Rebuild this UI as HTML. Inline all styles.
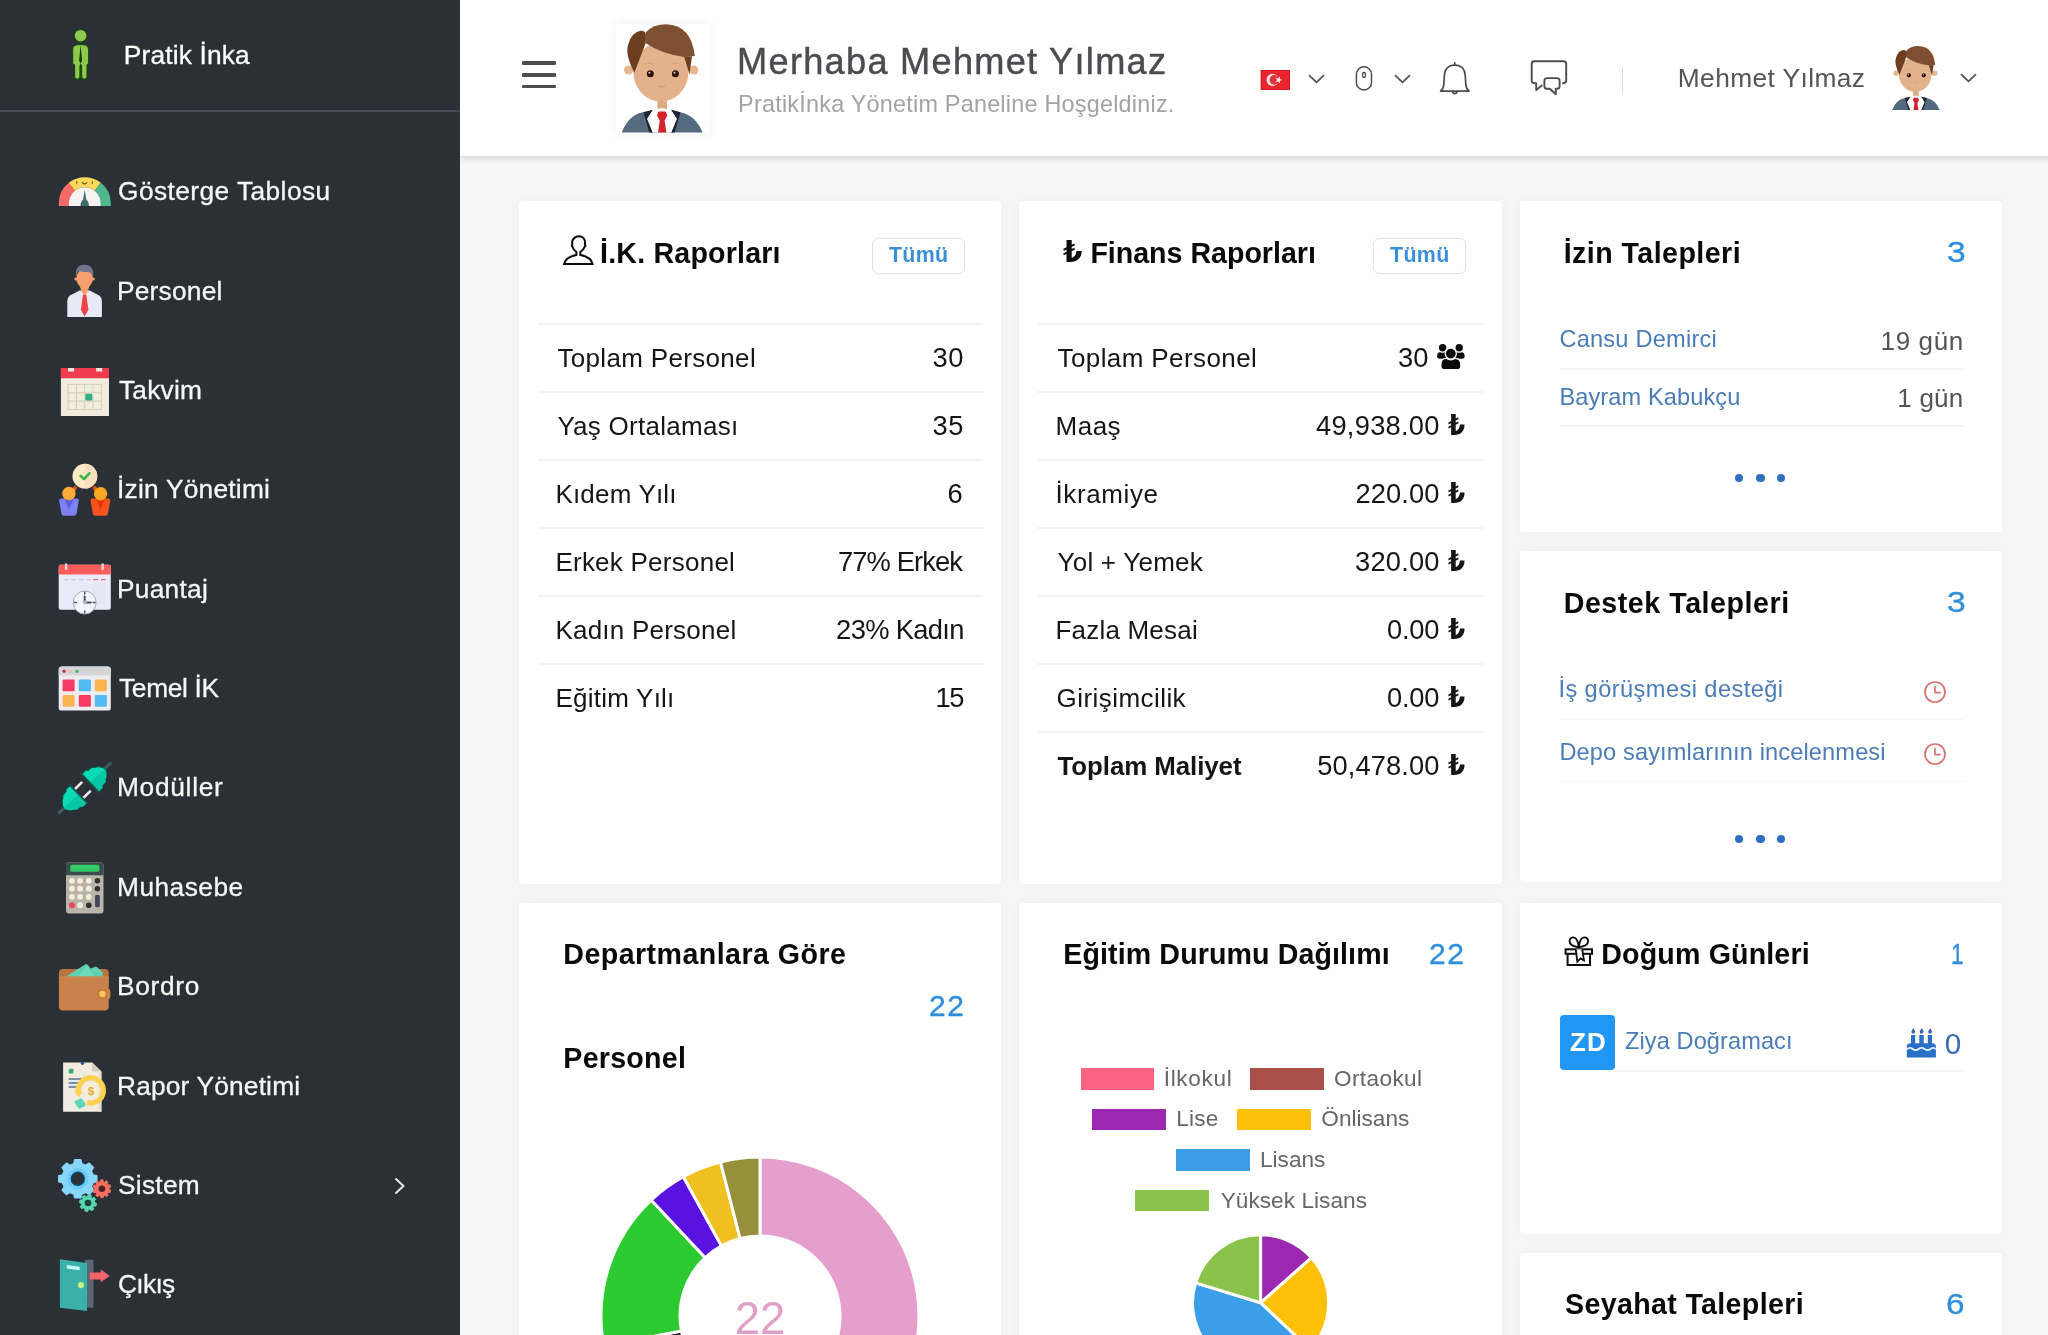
<!DOCTYPE html>
<html lang="tr">
<head>
<meta charset="utf-8">
<title>Pratik İnka - Gösterge Tablosu</title>
<style>
*{box-sizing:border-box;margin:0;padding:0}
html,body{width:2048px;height:1335px;overflow:hidden;background:#f6f6f6;font-family:"Liberation Sans",sans-serif;color:#111}
.abs{position:absolute}
.t{position:absolute;white-space:nowrap}
#wrap{position:absolute;left:0;top:0;width:2048px;height:1335px;will-change:transform}
.tl{font-family:"DejaVu Sans",sans-serif;font-weight:bold}
#side{position:absolute;left:0;top:0;width:460px;height:1335px;background:#2b2f36}
#top{position:absolute;left:460px;top:0;width:1620px;height:156px;background:#fff;box-shadow:0 5px 5px -1px rgba(0,0,0,.095),0 2px 3px rgba(0,0,0,.035);clip-path:inset(0 0 -24px 0)}
.card{position:absolute;background:#fff;border-radius:4px;box-shadow:0 0 12px rgba(0,0,0,.035)}
.hl{position:absolute;height:2px;background:#f2f2f2}
</style>
</head>
<body>
<div id="wrap">
<div class="card" style="left:519px;top:201px;width:482px;height:683px"></div>
<div class="card" style="left:1019px;top:201px;width:483px;height:683px"></div>
<div class="card" style="left:1520px;top:201px;width:482px;height:331px"></div>
<div class="card" style="left:1520px;top:551px;width:482px;height:331px"></div>
<div class="card" style="left:519px;top:903px;width:482px;height:500px"></div>
<div class="card" style="left:1019px;top:903px;width:483px;height:500px"></div>
<div class="card" style="left:1520px;top:903px;width:482px;height:331px"></div>
<div class="card" style="left:1520px;top:1253px;width:482px;height:331px"></div>
<div id="side"></div>
<div class="abs" style="left:0px;top:109.5px;width:460px;height:2px;background:#464a52"></div>
<svg class="abs" style="left:66px;top:28px" width="32" height="54" viewBox="0 0 32 54"><g>
<circle cx="14.6" cy="7.7" r="6.6" fill="#1d4a0c"/>
<circle cx="14.6" cy="7.7" r="5.8" fill="#8dc94c"/>
<path d="M9 17.2 Q6.6 18 6.6 21.5 L6.6 35 Q6.7 36.8 8.6 36.9 L8.6 49 Q8.8 51.2 11.4 51.2 Q13.9 51.2 14 49 L14.1 37.5 L15.5 37.5 L15.6 49 Q15.8 51.2 18.3 51.2 Q20.9 51.2 21 49 L21 36.9 Q22.6 36.8 22.6 35 L22.6 21.5 Q22.6 18 20.2 17.2 Q14.6 15.6 9 17.2 Z" fill="#8dc94c" stroke="#1d4a0c" stroke-width="1.2" stroke-linejoin="round"/>
<path d="M14.6 17 L13.1 32.5 L14.6 35.8 L16.1 32.5 Z" fill="#123a06"/>
<path d="M14.6 36 L14.6 50" stroke="#1d4a0c" stroke-width="1.4"/>
</g></svg>
<div class="t" style="left:123.75px;top:39.19px;font-size:26.3px;line-height:33px;color:#fff;letter-spacing:0.165px;-webkit-text-stroke:0.3px #fff;">Pratik İnka</div>
<div class="t" style="left:118.00px;top:175.44px;font-size:26.3px;line-height:33px;color:#f6f6f6;letter-spacing:0.434px;-webkit-text-stroke:0.3px #f6f6f6;">Gösterge Tablosu</div>
<svg class="abs" style="left:56px;top:163px" width="56" height="56" viewBox="0 0 56 56"><g>
<path d="M2.8 40.3 A26 26 0 0 1 12.8 19.8 L18.95 27.7 A16 16 0 0 0 12.8 40.3 L12.8 43 L2.8 43 Z" fill="#f96a66"/>
<path d="M12.8 19.8 A26 26 0 0 1 44.8 19.8 L38.65 27.7 A16 16 0 0 0 18.95 27.7 Z" fill="#f9d85c"/>
<path d="M44.8 19.8 A26 26 0 0 1 54.8 40.3 L54.8 43 L44.8 43 L44.8 40.3 A16 16 0 0 0 38.65 27.7 Z" fill="#4fb98c"/>
<path d="M12.8 40.3 A16 16 0 0 1 44.8 40.3 L44.8 43 L12.8 43 Z" fill="#f6f2f2"/>
<path d="M28.7 26.8 L30.3 36.6 Q33 38.8 32.9 43 L24.5 43 Q24.4 38.8 27.1 36.6 Z" fill="#3f6e6a"/>
<rect x="20" y="18.2" width="1.4" height="2.6" rx=".7" fill="#7a5a10"/>
<rect x="35.6" y="18.2" width="1.4" height="2.6" rx=".7" fill="#7a5a10"/>
<path d="M26.3 19.6 Q28.5 22.2 30.7 19.6" fill="none" stroke="#7a5a10" stroke-width="1.4" stroke-linecap="round"/>
</g></svg>
<div class="t" style="left:117.00px;top:274.78px;font-size:26.3px;line-height:33px;color:#f6f6f6;letter-spacing:0.222px;-webkit-text-stroke:0.3px #f6f6f6;">Personel</div>
<svg class="abs" style="left:56px;top:263px" width="56" height="56" viewBox="0 0 56 56"><g>
<path d="M11.3 54 L11.3 38.5 Q11.3 33.2 16 31.6 L23.5 27.6 L33.7 27.6 L41.2 31.6 Q45.9 33.2 45.9 38.5 L45.9 54 Z" fill="#e7eaf6"/>
<path d="M22.6 20 L25.6 28.5 L28.6 33.5 L31.6 28.5 L34.6 20 Z" fill="#f5a06e"/>
<ellipse cx="28.6" cy="15.4" rx="8.3" ry="9.4" fill="#f5a06e"/><circle cx="19.9" cy="16" r="1.6" fill="#f5a06e"/><circle cx="37.3" cy="16" r="1.6" fill="#f5a06e"/>
<path d="M20 13.4 Q18.8 1.8 28.4 1.8 Q38.2 1.8 37.2 13.4 Q35.6 9 31 9 Q25 9 22.6 7.8 Q20.8 10 20 13.4 Z" fill="#72778f"/>
<path d="M26.9 31.8 L30.3 31.8 L32.4 46.8 L28.6 53.6 L24.9 46.8 Z" fill="#ef4444"/>
</g></svg>
<div class="t" style="left:119.00px;top:374.12px;font-size:26.3px;line-height:33px;color:#f6f6f6;letter-spacing:0.218px;-webkit-text-stroke:0.3px #f6f6f6;">Takvim</div>
<svg class="abs" style="left:56px;top:362px" width="56" height="56" viewBox="0 0 56 56"><g>
<rect x="4.9" y="6" width="48.1" height="48" fill="#f0ebdc"/>
<path d="M4.9 6 H12.1 V9.4 H18.1 V6 H40.1 V9.4 H46.2 V6 H53 V16.2 H4.9 Z" fill="#f23b4f"/>
<rect x="12.1" y="22.4" width="33.3" height="25.1" fill="#f3eddc" stroke="#d9d1bd" stroke-width="1.2"/>
<path d="M20.4 22.4 V47.5 M28.7 22.4 V47.5 M37 22.4 V47.5 M12.1 30.8 H45.4 M12.1 39.1 H45.4" stroke="#d9d1bd" stroke-width="1.2" fill="none"/>
<rect x="29.3" y="22.9" width="7.1" height="7.3" fill="#e6f0dc"/>
<rect x="29.4" y="31.7" width="6.9" height="6.9" rx="1" fill="#2fae86"/>
</g></svg>
<div class="t" style="left:117.00px;top:473.46px;font-size:26.3px;line-height:33px;color:#f6f6f6;letter-spacing:0.234px;-webkit-text-stroke:0.3px #f6f6f6;">İzin Yönetimi</div>
<svg class="abs" style="left:56px;top:461px" width="56" height="56" viewBox="0 0 56 56"><g>
<path d="M19 27 L14 33 M38.6 27 L43.6 33" stroke="#e8502a" stroke-width="4" stroke-linecap="round"/>
<circle cx="28.85" cy="15.2" r="12.4" fill="#fdebc8"/>
<path d="M28.85 2.8 A12.4 12.4 0 0 1 28.85 27.6 Z" fill="#fbe0bf"/>
<path d="M24.6 15 L28 18 L33.4 12.3" fill="none" stroke="#3fb543" stroke-width="2.6" stroke-linecap="round" stroke-linejoin="round"/>
<path d="M5.2 37.5 H20.8 Q23.2 37.5 22.8 40 L20.6 52.5 Q20.2 54.8 18 54.8 H8 Q5.8 54.8 5.4 52.5 L3.2 40 Q2.8 37.5 5.2 37.5 Z" fill="#7d82f2"/>
<path d="M8.6 38 L13 48.5 L17.4 38 Z" fill="#5a5de0"/>
<path d="M36.6 37.5 H52.2 Q54.6 37.5 54.2 40 L52 52.5 Q51.6 54.8 49.4 54.8 H39.4 Q37.2 54.8 36.8 52.5 L34.6 40 Q34.2 37.5 36.6 37.5 Z" fill="#f8521f"/>
<path d="M40 38 L44.4 48.5 L48.8 38 Z" fill="#e83406"/>
<circle cx="12.9" cy="32.5" r="6.7" fill="#fbab3a"/>
<circle cx="44.6" cy="32.7" r="6.7" fill="#fba620"/>
</g></svg>
<div class="t" style="left:117.00px;top:572.80px;font-size:26.3px;line-height:33px;color:#f6f6f6;letter-spacing:0.276px;-webkit-text-stroke:0.3px #f6f6f6;">Puantaj</div>
<svg class="abs" style="left:56px;top:561px" width="56" height="56" viewBox="0 0 56 56"><g>
<rect x="2.7" y="3.7" width="52.1" height="45.1" rx="2" fill="#eaebf7"/>
<path d="M4.7 3.7 H52.8 Q54.8 3.7 54.8 5.7 V13.6 H2.7 V5.7 Q2.7 3.7 4.7 3.7 Z" fill="#fb5c5c"/>
<rect x="8.9" y="2.2" width="2.4" height="7" rx="1.2" fill="#f5d4dc"/>
<rect x="45.5" y="2.2" width="2.4" height="7" rx="1.2" fill="#f5d4dc"/>
<path d="M8 18.6 H12.5 M15.5 18.6 H20 M23 18.6 H27.5 M30.5 18.6 H35" stroke="#c9cbe0" stroke-width="1.2"/>
<path d="M37.5 18.6 H42 M45 18.6 H49.5" stroke="#e06a7a" stroke-width="1.3"/>
<path d="M37 22 H50 V44 H37 Z" fill="#e3e6f4" opacity=".7"/>
<circle cx="28.7" cy="41.5" r="11.5" fill="#f4f4fb" stroke="#a9abb9" stroke-width="1"/>
<path d="M28.7 35.4 V41.5 H34.8" fill="none" stroke="#4b4d5c" stroke-width="2" stroke-linecap="round"/>
<path d="M28.7 31.2 V33 M28.7 50 V51.8 M18.4 41.5 H20.2 M37.2 41.5 H39" stroke="#4b4d5c" stroke-width="1.4" stroke-linecap="round"/>
<circle cx="28.7" cy="41.5" r="1.9" fill="#b9bac8"/>
</g></svg>
<div class="t" style="left:119.00px;top:672.14px;font-size:26.3px;line-height:33px;color:#f6f6f6;letter-spacing:-0.323px;-webkit-text-stroke:0.3px #f6f6f6;">Temel İK</div>
<svg class="abs" style="left:56px;top:660px" width="56" height="56" viewBox="0 0 56 56"><g>
<rect x="2.7" y="6.4" width="52.1" height="44.2" rx="3.2" fill="#ededf1"/>
<path d="M5.9 6.4 H51.6 Q54.8 6.4 54.8 9.6 V15.6 H2.7 V9.6 Q2.7 6.4 5.9 6.4 Z" fill="#d5d5d8"/>
<circle cx="8.1" cy="11.3" r="1.7" fill="#c8385c"/><circle cx="14.6" cy="11.3" r="1.7" fill="#e8bf9f"/><circle cx="21.1" cy="11.3" r="1.7" fill="#4fb86a"/>
<rect x="6.6" y="19.4" width="12" height="11.8" rx="1.2" fill="#f73a63"/>
<rect x="22.8" y="19.4" width="12.1" height="11.8" rx="1.2" fill="#52bbef"/>
<rect x="38.8" y="19.4" width="12.1" height="11.8" rx="1.2" fill="#fcb44f"/>
<rect x="6.6" y="34.9" width="12" height="11.8" rx="1.2" fill="#fcb44f"/>
<rect x="22.8" y="34.9" width="12.1" height="11.8" rx="1.2" fill="#f73a63"/>
<rect x="38.8" y="34.9" width="12.1" height="11.8" rx="1.2" fill="#52bbef"/>
</g></svg>
<div class="t" style="left:117.00px;top:771.48px;font-size:26.3px;line-height:33px;color:#f6f6f6;letter-spacing:0.701px;-webkit-text-stroke:0.3px #f6f6f6;">Modüller</div>
<svg class="abs" style="left:56px;top:759px" width="56" height="56" viewBox="0 0 56 56"><g transform="translate(28.8 29) rotate(-44)">
<path d="M26 0 H35.5 M-27.5 0 H-35.5" stroke="#3d5f5b" stroke-width="3.2" stroke-linecap="round"/>
<path d="M-8.8 -6.1 H1.4 M-8.8 6.1 H1.4" stroke="#efecf0" stroke-width="2.6" stroke-linecap="round"/>
<path id="pl" d="M7.4 -12.2 L12.4 -12.2 Q14.2 -12.2 14.4 -10.4 L18.6 -10.2 Q20.4 -10 20.8 -8.4 Q23 -7.4 25.3 -5 Q27.8 -2.2 27.8 0 Q27.8 2.2 25.3 5 Q23 7.4 20.8 8.4 Q20.4 10 18.6 10.2 L14.4 10.4 Q14.2 12.2 12.4 12.2 L7.4 12.2 Z" fill="#0adbb4" stroke="#0b4f47" stroke-width="1.1" stroke-linejoin="round"/>
<path d="M7.4 0 L27.8 0 Q27.8 2.2 25.3 5 Q23 7.4 20.8 8.4 Q20.4 10 18.6 10.2 L14.4 10.4 Q14.2 12.2 12.4 12.2 L7.4 12.2 Z" fill="#07c6a5"/>
<path d="M7.2 -13 V13" stroke="#1d4f49" stroke-width="1.8" stroke-linecap="round"/>
<g transform="translate(-1.4 0) scale(-1 1)">
<path d="M7.4 -12.2 L12.4 -12.2 Q14.2 -12.2 14.4 -10.4 L18.6 -10.2 Q20.4 -10 20.8 -8.4 Q23 -7.4 25.3 -5 Q27.8 -2.2 27.8 0 Q27.8 2.2 25.3 5 Q23 7.4 20.8 8.4 Q20.4 10 18.6 10.2 L14.4 10.4 Q14.2 12.2 12.4 12.2 L7.4 12.2 Z" fill="#0adbb4" stroke="#0b4f47" stroke-width="1.1" stroke-linejoin="round"/>
<path d="M7.4 0 L27.8 0 Q27.8 2.2 25.3 5 Q23 7.4 20.8 8.4 Q20.4 10 18.6 10.2 L14.4 10.4 Q14.2 12.2 12.4 12.2 L7.4 12.2 Z" fill="#07c6a5"/>
<path d="M7.2 -13 V13" stroke="#1d4f49" stroke-width="1.8" stroke-linecap="round"/>
</g>
</g></svg>
<div class="t" style="left:117.00px;top:870.82px;font-size:26.3px;line-height:33px;color:#f6f6f6;letter-spacing:0.474px;-webkit-text-stroke:0.3px #f6f6f6;">Muhasebe</div>
<svg class="abs" style="left:56px;top:859px" width="56" height="56" viewBox="0 0 56 56"><g>
<rect x="10" y="3.5" width="37.5" height="50.9" rx="2.4" fill="#b8b4a9"/>
<path d="M12.4 3.5 H45.1 Q47.5 3.5 47.5 5.9 V16.2 H10 V5.9 Q10 3.5 12.4 3.5 Z" fill="#3b4b4e"/>
<rect x="14.2" y="5.8" width="29.3" height="7" rx="1.8" fill="#2fc864"/>
<rect x="15.5" y="7" width="27" height="1.6" rx=".8" fill="#4fd47c" opacity=".6"/>
<g fill="#f6edda">
<circle cx="16" cy="21.8" r="2.9"/><circle cx="24.1" cy="21.8" r="2.9"/><circle cx="32.8" cy="21.8" r="2.9"/>
<circle cx="16" cy="29.7" r="2.9"/><circle cx="24.1" cy="29.7" r="2.9"/><circle cx="32.8" cy="29.7" r="2.9"/>
<circle cx="16" cy="37.8" r="2.9"/><circle cx="24.1" cy="37.8" r="2.9"/><circle cx="32.8" cy="37.8" r="2.9"/>
<circle cx="24.1" cy="46.2" r="2.9"/>
</g>
<circle cx="16" cy="46.2" r="3" fill="#e8465f"/>
<circle cx="32.8" cy="46.2" r="2.8" fill="#2d3234"/>
<circle cx="41.4" cy="21.8" r="2.7" fill="#2d3234"/>
<circle cx="41.4" cy="29.7" r="2.7" fill="#2d3234"/>
<rect x="39.1" y="36" width="4.7" height="12.2" rx="1.4" fill="#3b4459"/>
</g></svg>
<div class="t" style="left:117.00px;top:970.16px;font-size:26.3px;line-height:33px;color:#f6f6f6;letter-spacing:0.699px;-webkit-text-stroke:0.3px #f6f6f6;">Bordro</div>
<svg class="abs" style="left:56px;top:958px" width="56" height="56" viewBox="0 0 56 56"><g>
<rect x="2.9" y="11" width="49.8" height="20" rx="4" fill="#b8733f"/>
<path d="M9 19 L29.6 6.2 Q30.6 5.6 31.4 6.6 L34.6 10.6 L39.4 8.8 Q40.4 8.5 41.2 9.2 L46.6 14 V20 H9 Z" fill="#5fd0b1"/>
<path d="M22 19 L31 8 L38 19 Z" fill="#7adcc2" opacity=".7"/>
<path d="M2.9 18.6 H52.7 V48.5 Q52.7 52.5 48.7 52.5 H6.9 Q2.9 52.5 2.9 48.5 Z" fill="#c8814b"/>
<path d="M2.9 18.6 H52.7 V20.4 H2.9 Z" fill="#d18a55" opacity=".7"/>
<path d="M46.5 30.8 H52 Q54.4 30.8 54.4 33.2 V38.8 Q54.4 41.2 52 41.2 H46.5 Z" fill="#c8814b"/>
<circle cx="46.4" cy="36" r="4.6" fill="#c47a1a"/>
<circle cx="46.4" cy="36" r="3.3" fill="#f6c765"/>
</g></svg>
<div class="t" style="left:117.00px;top:1069.50px;font-size:26.3px;line-height:33px;color:#f6f6f6;letter-spacing:0.177px;-webkit-text-stroke:0.3px #f6f6f6;">Rapor Yönetimi</div>
<svg class="abs" style="left:56px;top:1057px" width="56" height="56" viewBox="0 0 56 56"><g>
<path d="M7.1 5.5 H36.2 L45.4 14.4 V54.8 H7.1 Z" fill="#f1ebe0"/>
<path d="M36.2 5.5 L45.4 14.4 H36.2 Z" fill="#d6cdb9"/>
<path d="M42.5 14.4 H45.4 V54.8 H42.5 Z" fill="#e6dfd0"/>
<circle cx="26.5" cy="6.2" r="1.7" fill="#2f5482"/>
<rect x="12.7" y="11.8" width="4.8" height="4.8" rx="1" fill="#3cae7c"/>
<rect x="12.6" y="22" width="13" height="8" fill="#dfeafb"/>
<path d="M12.6 22 H26 M12.6 25.9 H24 M12.6 29.9 H23" stroke="#5d7390" stroke-width="1.5"/>
<path d="M22.4 35.5 A12.6 12.6 0 1 1 31 45.4" fill="none" stroke="#fdd24e" stroke-width="5.2"/>
<path d="M18.6 34.6 L26.6 34.6 L22.6 40.4 Z" fill="#fdd24e"/>
<circle cx="34.9" cy="33.5" r="7.4" fill="#f8efd9"/>
<text x="34.9" y="37.8" text-anchor="middle" font-family="Liberation Sans, sans-serif" font-weight="bold" font-size="11.5" fill="#e6a63a">$</text>
<path d="M19 44 L24.2 41.4 Q25.4 41 26.2 42 L29.6 47 Q30.2 48.2 29 48.9 L24.4 51.6 Q23.2 52.2 22.4 51.2 L18.6 45.8 Q18 44.6 19 44 Z" fill="#62d6b6"/>
</g></svg>
<div class="t" style="left:118.00px;top:1168.84px;font-size:26.3px;line-height:33px;color:#f6f6f6;letter-spacing:0.268px;-webkit-text-stroke:0.3px #f6f6f6;">Sistem</div>
<svg class="abs" style="left:56px;top:1157px" width="56" height="56" viewBox="0 0 56 56"><g stroke-linejoin="round">
<path d="M25.68 36.91 L24.80 40.76 L18.80 40.76 L17.92 36.91 L13.86 35.23 L10.51 37.33 L6.27 33.09 L8.37 29.74 L6.69 25.68 L2.84 24.80 L2.84 18.80 L6.69 17.92 L8.37 13.86 L6.27 10.51 L10.51 6.27 L13.86 8.37 L17.92 6.69 L18.80 2.84 L24.80 2.84 L25.68 6.69 L29.74 8.37 L33.09 6.27 L37.33 10.51 L35.23 13.86 L36.91 17.92 L40.76 18.80 L40.76 24.80 L36.91 25.68 L35.23 29.74 L37.33 33.09 L33.09 37.33 L29.74 35.23 Z" fill="#86d7fb" stroke="#86d7fb" stroke-width="1.6"/>
<circle cx="21.8" cy="21.8" r="10.6" fill="#6fcaf6"/>
<circle cx="21.8" cy="21.8" r="7.2" fill="#0f4562"/>
<circle cx="21.8" cy="21.8" r="5.6" fill="#2b2f36"/>
<path d="M52.87 32.40 L54.78 33.25 L54.05 35.62 L52.00 35.24 L51.19 36.39 L52.23 38.19 L50.25 39.68 L48.81 38.17 L47.48 38.62 L47.27 40.70 L44.79 40.73 L44.51 38.66 L43.17 38.25 L41.78 39.80 L39.75 38.37 L40.74 36.54 L39.90 35.41 L37.86 35.85 L37.06 33.50 L38.95 32.60 L38.93 31.20 L37.02 30.35 L37.75 27.98 L39.80 28.36 L40.61 27.21 L39.57 25.41 L41.55 23.92 L42.99 25.43 L44.32 24.98 L44.53 22.90 L47.01 22.87 L47.29 24.94 L48.63 25.35 L50.02 23.80 L52.05 25.23 L51.06 27.06 L51.90 28.19 L53.94 27.75 L54.74 30.10 L52.85 31.00 Z" fill="#f4705f" stroke="#f4705f" stroke-width="1"/>
<circle cx="45.9" cy="31.8" r="3.3" fill="#5c1c1c"/>
<circle cx="45.9" cy="31.8" r="1.7" fill="#3a2a2c"/>
<path d="M38.49 45.56 L40.50 46.23 L39.92 49.10 L37.80 48.93 L36.89 50.28 L37.84 52.17 L35.41 53.79 L34.03 52.17 L32.44 52.49 L31.77 54.50 L28.90 53.92 L29.07 51.80 L27.72 50.89 L25.83 51.84 L24.21 49.41 L25.83 48.03 L25.51 46.44 L23.50 45.77 L24.08 42.90 L26.20 43.07 L27.11 41.72 L26.16 39.83 L28.59 38.21 L29.97 39.83 L31.56 39.51 L32.23 37.50 L35.10 38.08 L34.93 40.20 L36.28 41.11 L38.17 40.16 L39.79 42.59 L38.17 43.97 Z" fill="#59d5b1" stroke="#59d5b1" stroke-width="1"/>
<circle cx="32" cy="46" r="3.3" fill="#0b4a3e"/>
<circle cx="32" cy="46" r="1.7" fill="#2b3a38"/>
</g></svg>
<div class="t" style="left:118.00px;top:1268.18px;font-size:26.3px;line-height:33px;color:#f6f6f6;letter-spacing:-0.688px;-webkit-text-stroke:0.3px #f6f6f6;">Çıkış</div>
<svg class="abs" style="left:56px;top:1256px" width="56" height="56" viewBox="0 0 56 56"><g>
<path d="M29 3.7 H37.5 V51.7 H29 Z" fill="#5b6679"/>
<path d="M3.9 3.2 L31 7.1 V55.1 L3.9 51.7 Z" fill="#3ab0aa"/>
<path d="M10.8 8.9 L23.6 10.8 V14.2 L10.8 12.4 Z" fill="#c6fdfb"/>
<circle cx="24.9" cy="29.1" r="3.1" fill="#c9f27c"/>
<path d="M33.8 16.5 H44.8 V13.4 L53.8 19.9 L44.8 26.2 V23.4 H33.8 Z" fill="#f0646a"/>
</g></svg>
<svg class="abs" style="left:392px;top:1176px" width="16" height="20" viewBox="0 0 16 20"><path d="M4 3 L11.5 10 L4 17" fill="none" stroke="#e8e8e8" stroke-width="2" stroke-linecap="round" stroke-linejoin="round"/></svg>
<div id="top"></div>
<div class="abs" style="left:521.5px;top:61px;width:34.5px;height:3.8px;background:#4d4d4d;border-radius:1px"></div>
<div class="abs" style="left:521.5px;top:72.8px;width:34.5px;height:3.8px;background:#4d4d4d;border-radius:1px"></div>
<div class="abs" style="left:521.5px;top:84.6px;width:34.5px;height:3.8px;background:#4d4d4d;border-radius:1px"></div>
<div class="abs" style="left:616px;top:23.5px;width:93.5px;height:109.5px;background:#fff;box-shadow:0 0 11px 1px rgba(0,0,0,.06);border-radius:2px"></div>
<svg class="abs" style="left:620px;top:24px" width="84" height="109" viewBox="0 0 84 109"><g>
<rect x="37.4" y="72" width="9.6" height="17" fill="#dba982"/>
<path d="M1.7 108.5 Q9 91 22 88.6 L33 86 H50.8 L61 88.6 Q75 91 82.6 108.5 Z" fill="#546a7e"/>
<path d="M32.6 86 L26.6 95 L32.4 108.5 H51.4 L57.2 95 L51.2 86 L42 84 Z" fill="#fff"/>
<path d="M23.5 88.2 L32.8 85.8 L27 94.8 L32.6 108.5 H29.4 Z" fill="#1d2434"/>
<path d="M60.5 88.2 L51.2 85.8 L57 94.8 L51.4 108.5 H54.6 Z" fill="#1d2434"/>
<path d="M38.6 87.4 H45.6 L47.4 91.6 L44.6 96.6 L46.4 108.5 H38 L39.8 96.6 L37 91.6 Z" fill="#d3222b"/>
<circle cx="8.6" cy="46" r="4.6" fill="#e6b891"/><circle cx="73.8" cy="46" r="4.6" fill="#e6b891"/>
<ellipse cx="40.9" cy="48" rx="27.6" ry="29.6" fill="#e3b18b"/>
<path d="M64 32.5 L72 32.2 L69.4 50.5 Q66.5 40 64 32.5 Z" fill="#6d3f20"/>
<path d="M25.5 8.6 Q33 0.2 46 0.2 Q71.5 1 74.8 32 L64 33 Q42 30 25.4 19 Z" fill="#7e4f30"/>
<path d="M21 6.8 Q25.6 6.4 25.9 12 L25.5 19.6 Q20 34 14.4 48.8 Q4.6 30 8.4 20 Q12 8 21 6.8 Z" fill="#6b3e1f"/>
<circle cx="30.3" cy="49.7" r="3.5" fill="#2a130b"/><circle cx="55.4" cy="49.7" r="3.5" fill="#2a130b"/>
<circle cx="29.4" cy="48.7" r="1" fill="#fff" opacity=".8"/><circle cx="54.5" cy="48.7" r="1" fill="#fff" opacity=".8"/>
<path d="M24.5 40.2 Q29 38.2 33.5 39.8 M51 39.8 Q55.5 38.2 60 40.2" fill="none" stroke="#d3a07b" stroke-width="1"/>
<path d="M38.5 61.8 Q41.5 64.2 45 61.4" fill="none" stroke="#d19c77" stroke-width="1.2" stroke-linecap="round"/>
</g></svg>
<div class="t" style="left:737.10px;top:39.46px;font-size:36.2px;line-height:45px;color:#4b4b50;letter-spacing:1.267px;-webkit-text-stroke:0.45px #4b4b50;">Merhaba Mehmet Yılmaz</div>
<div class="t" style="left:738.10px;top:89.99px;font-size:23.4px;line-height:29px;color:#a3a3a3;letter-spacing:0.229px;">Pratikİnka Yönetim Paneline Hoşgeldiniz.</div>
<svg class="abs" style="left:1260px;top:69px" width="31" height="22" viewBox="0 0 31 22"><g>
<rect x=".8" y="1" width="29.1" height="19.8" fill="#e9262d"/>
<rect x="1.2" y="1.4" width="28.3" height="19" fill="none" stroke="#d3141c" stroke-width=".8"/>
<circle cx="12.6" cy="10.9" r="6.1" fill="#fbe6e7"/>
<circle cx="14.3" cy="10.9" r="4.8" fill="#e4333b"/>
<path d="M22.6 10.9 L19.9 11.8 L19.9 14.6 L18.2 12.4 L15.5 13.2 L17.1 10.9 L15.5 8.6 L18.2 9.4 L19.9 7.2 L19.9 10 Z" fill="#fbe6e7"/>
</g></svg>
<svg class="abs" style="left:1307.5px;top:72.5px" width="17" height="12" viewBox="0 0 17 12"><path d="M1.5 2.7 L8.5 9.3 L15.5 2.7" fill="none" stroke="#555" stroke-width="1.8" stroke-linecap="round" stroke-linejoin="round"/></svg>
<svg class="abs" style="left:1353px;top:65px" width="21" height="28" viewBox="0 0 21 28"><g fill="none" stroke="#4d4d4d">
<rect x="3.4" y="1.8" width="15.1" height="23.2" rx="7.5" stroke-width="1.5"/>
<ellipse cx="11" cy="10" rx="1.5" ry="2.5" stroke-width="1.3"/>
</g></svg>
<svg class="abs" style="left:1393.5px;top:72.5px" width="17" height="12" viewBox="0 0 17 12"><path d="M1.5 2.7 L8.5 9.3 L15.5 2.7" fill="none" stroke="#555" stroke-width="1.8" stroke-linecap="round" stroke-linejoin="round"/></svg>
<svg class="abs" style="left:1437px;top:60px" width="36" height="38" viewBox="0 0 36 38"><g fill="none" stroke="#4a4a4a" stroke-width="1.7" stroke-linejoin="round" stroke-linecap="round">
<path d="M17.8 5.1 C10.6 5.1 7.7 10 7.4 15 L6.7 25.4 C6.5 28 5.2 29.6 3.6 31.2 L32 31.2 C30.4 29.6 29.1 28 28.9 25.4 L28.2 15 C27.9 10 25 5.1 17.8 5.1 Z"/>
<path d="M17.8 2.8 V5"/>
<path d="M15.6 32 A2.3 2.3 0 0 0 20 32"/>
</g></svg>
<svg class="abs" style="left:1529px;top:58px" width="40" height="40" viewBox="0 0 40 40"><g fill="none" stroke="#4d4d4d" stroke-width="1.9" stroke-linejoin="round" stroke-linecap="round">
<path d="M34 25.2 H34.6 Q37.2 25.2 37.2 22.6 V5.9 Q37.2 3.3 34.6 3.3 H5.3 Q2.7 3.3 2.7 5.9 V22.6 Q2.7 25.2 5.3 25.2 H7.2 V32 L12.8 27.6"/>
<path d="M18 20.1 H28 Q30.6 20.1 30.6 22.7 V28.2 Q30.6 30.8 28 30.8 H26.8 V36.2 L20.8 30.8 H18 Q15.4 30.8 15.4 28.2 V22.7 Q15.4 20.1 18 20.1 Z"/>
</g></svg>
<div class="abs" style="left:1621.5px;top:68px;width:1.6px;height:26px;background:#dcdcdc"></div>
<div class="t" style="left:1677.80px;top:61.59px;font-size:26.3px;line-height:33px;color:#555;letter-spacing:0.407px;">Mehmet Yılmaz</div>
<svg class="abs" style="left:1890.6px;top:46px" width="49.7" height="64.4" viewBox="0 0 84 109"><g>
<rect x="37.4" y="72" width="9.6" height="17" fill="#dba982"/>
<path d="M1.7 108.5 Q9 91 22 88.6 L33 86 H50.8 L61 88.6 Q75 91 82.6 108.5 Z" fill="#546a7e"/>
<path d="M32.6 86 L26.6 95 L32.4 108.5 H51.4 L57.2 95 L51.2 86 L42 84 Z" fill="#fff"/>
<path d="M23.5 88.2 L32.8 85.8 L27 94.8 L32.6 108.5 H29.4 Z" fill="#1d2434"/>
<path d="M60.5 88.2 L51.2 85.8 L57 94.8 L51.4 108.5 H54.6 Z" fill="#1d2434"/>
<path d="M38.6 87.4 H45.6 L47.4 91.6 L44.6 96.6 L46.4 108.5 H38 L39.8 96.6 L37 91.6 Z" fill="#d3222b"/>
<circle cx="8.6" cy="46" r="4.6" fill="#e6b891"/><circle cx="73.8" cy="46" r="4.6" fill="#e6b891"/>
<ellipse cx="40.9" cy="48" rx="27.6" ry="29.6" fill="#e3b18b"/>
<path d="M64 32.5 L72 32.2 L69.4 50.5 Q66.5 40 64 32.5 Z" fill="#6d3f20"/>
<path d="M25.5 8.6 Q33 0.2 46 0.2 Q71.5 1 74.8 32 L64 33 Q42 30 25.4 19 Z" fill="#7e4f30"/>
<path d="M21 6.8 Q25.6 6.4 25.9 12 L25.5 19.6 Q20 34 14.4 48.8 Q4.6 30 8.4 20 Q12 8 21 6.8 Z" fill="#6b3e1f"/>
<circle cx="30.3" cy="49.7" r="3.5" fill="#2a130b"/><circle cx="55.4" cy="49.7" r="3.5" fill="#2a130b"/>
<circle cx="29.4" cy="48.7" r="1" fill="#fff" opacity=".8"/><circle cx="54.5" cy="48.7" r="1" fill="#fff" opacity=".8"/>
<path d="M24.5 40.2 Q29 38.2 33.5 39.8 M51 39.8 Q55.5 38.2 60 40.2" fill="none" stroke="#d3a07b" stroke-width="1"/>
<path d="M38.5 61.8 Q41.5 64.2 45 61.4" fill="none" stroke="#d19c77" stroke-width="1.2" stroke-linecap="round"/>
</g></svg>
<svg class="abs" style="left:1960px;top:72px" width="17" height="12" viewBox="0 0 17 12"><path d="M1.5 2.7 L8.5 9.3 L15.5 2.7" fill="none" stroke="#555" stroke-width="1.8" stroke-linecap="round" stroke-linejoin="round"/></svg>
<svg class="abs" style="left:562px;top:234px" width="33" height="33" viewBox="0 0 33 33"><path d="M2.1 30 C3 25 8 22.3 14.4 21 V18 C12.5 16.6 10.9 14.8 10.4 12.6 C9.6 12.4 9.6 11 10.3 10.6 C10 8.6 10.2 6.8 11.1 5.4 C12.4 3.3 14.5 2.3 16.8 2.3 C19.4 2.3 21.4 3.5 22.4 5.6 C23.1 7.1 23.2 8.8 22.9 10.6 C23.6 11 23.6 12.4 22.8 12.6 C22.2 14.8 20.3 16.6 18.3 18 V21 C24.6 22.3 29.8 25 30.6 30 Z" fill="none" stroke="#0b0b0b" stroke-width="2" stroke-linejoin="miter"/></svg>
<div class="t" style="left:600.10px;top:234.69px;font-size:28.6px;line-height:36px;color:#0a0a0a;font-weight:bold;letter-spacing:0.191px;">İ.K. Raporları</div>
<div class="abs" style="left:871.6px;top:238px;width:93px;height:36px;border:1.5px solid #e2e2e2;border-radius:6px;background:#fff"></div>
<div class="t" style="left:888.90px;top:242.18px;font-size:21.4px;line-height:27px;color:#3b8fd8;font-weight:bold;letter-spacing:0.349px;">Tümü</div>
<div class="abs" style="left:538px;top:322.6px;width:445px;height:2px;background:#f2f2f2"></div>
<div class="t" style="left:557.40px;top:342.29px;font-size:26.0px;line-height:32px;color:#151515;letter-spacing:0.330px;">Toplam Personel</div>
<div class="t" style="left:932.40px;top:341.04px;font-size:27.3px;line-height:34px;color:#151515;letter-spacing:0.719px;">30</div>
<div class="abs" style="left:538px;top:390.6px;width:445px;height:2px;background:#f2f2f2"></div>
<div class="t" style="left:557.40px;top:410.29px;font-size:26.0px;line-height:32px;color:#151515;letter-spacing:0.276px;">Yaş Ortalaması</div>
<div class="t" style="left:932.40px;top:409.04px;font-size:27.3px;line-height:34px;color:#151515;letter-spacing:0.719px;">35</div>
<div class="abs" style="left:538px;top:458.6px;width:445px;height:2px;background:#f2f2f2"></div>
<div class="t" style="left:555.40px;top:478.29px;font-size:26.0px;line-height:32px;color:#151515;letter-spacing:0.188px;">Kıdem Yılı</div>
<div class="t" style="left:947.50px;top:477.04px;font-size:27.3px;line-height:34px;color:#151515;">6</div>
<div class="abs" style="left:538px;top:526.6px;width:445px;height:2px;background:#f2f2f2"></div>
<div class="t" style="left:555.40px;top:546.29px;font-size:26.0px;line-height:32px;color:#151515;letter-spacing:0.244px;">Erkek Personel</div>
<div class="t" style="left:838.00px;top:545.04px;font-size:27.3px;line-height:34px;color:#151515;letter-spacing:-0.881px;">77% Erkek</div>
<div class="abs" style="left:538px;top:594.6px;width:445px;height:2px;background:#f2f2f2"></div>
<div class="t" style="left:555.40px;top:614.29px;font-size:26.0px;line-height:32px;color:#151515;letter-spacing:0.230px;">Kadın Personel</div>
<div class="t" style="left:836.10px;top:613.04px;font-size:27.3px;line-height:34px;color:#151515;letter-spacing:-0.646px;">23% Kadın</div>
<div class="abs" style="left:538px;top:662.6px;width:445px;height:2px;background:#f2f2f2"></div>
<div class="t" style="left:555.40px;top:682.29px;font-size:26.0px;line-height:32px;color:#151515;letter-spacing:0.240px;">Eğitim Yılı</div>
<div class="t" style="left:935.40px;top:681.04px;font-size:27.3px;line-height:34px;color:#151515;letter-spacing:-1.200px;">15</div>
<div class="t" style="left:1063.00px;top:233.34px;font-size:30.2px;line-height:38px;color:#0a0a0a;font-weight:bold;font-family:'DejaVu Sans',sans-serif;transform:scaleX(0.9190);transform-origin:0 50%;">₺</div>
<div class="t" style="left:1090.40px;top:234.69px;font-size:28.6px;line-height:36px;color:#0a0a0a;font-weight:bold;letter-spacing:-0.012px;">Finans Raporları</div>
<div class="abs" style="left:1372.7px;top:238px;width:93px;height:36px;border:1.5px solid #e2e2e2;border-radius:6px;background:#fff"></div>
<div class="t" style="left:1390.00px;top:242.18px;font-size:21.4px;line-height:27px;color:#3b8fd8;font-weight:bold;letter-spacing:0.349px;">Tümü</div>
<div class="abs" style="left:1038px;top:322.6px;width:446px;height:2px;background:#f2f2f2"></div>
<div class="t" style="left:1057.50px;top:342.29px;font-size:26.0px;line-height:32px;color:#151515;letter-spacing:0.402px;">Toplam Personel</div>
<div class="t" style="left:1398.00px;top:341.04px;font-size:27.3px;line-height:34px;color:#151515;letter-spacing:0.019px;">30</div>
<svg class="abs" style="left:1436px;top:343px" width="30" height="28" viewBox="0 0 30 28"><g fill="#0b0b0b">
<circle cx="6.6" cy="4.7" r="3.7"/><circle cx="23.2" cy="4.7" r="3.7"/>
<path d="M1 13.6 Q1 9.2 4.2 9.2 Q6.6 10.4 9 9.2 Q11 9.2 11.6 11 L11.6 15.7 H3.2 Q1 15.7 1 13.6 Z"/>
<path d="M28.7 13.6 Q28.7 9.2 25.5 9.2 Q23.1 10.4 20.7 9.2 Q18.7 9.2 18.1 11 L18.1 15.7 H26.5 Q28.7 15.7 28.7 13.6 Z"/>
<circle cx="14.8" cy="10.6" r="6.2" fill="#fff"/>
<path d="M4.9 22 Q4.9 15.3 10.2 15.3 Q14.8 18.4 19.4 15.3 Q24.8 15.3 24.8 22 V23.3 Q24.8 26.7 21.4 26.7 H8.3 Q4.9 26.7 4.9 23.3 Z" stroke="#fff" stroke-width="1.2"/>
<circle cx="14.8" cy="10.6" r="4.9"/>
</g></svg>
<div class="abs" style="left:1038px;top:390.6px;width:446px;height:2px;background:#f2f2f2"></div>
<div class="t" style="left:1055.50px;top:410.29px;font-size:26.0px;line-height:32px;color:#151515;letter-spacing:0.507px;">Maaş</div>
<div class="t" style="left:1316.00px;top:409.04px;font-size:27.3px;line-height:34px;color:#151515;letter-spacing:0.256px;">49,938.00</div>
<div class="t" style="left:1447.60px;top:407.29px;font-size:28.6px;line-height:36px;color:#151515;font-weight:bold;font-family:'DejaVu Sans',sans-serif;transform:scaleX(0.8600);transform-origin:0 50%;">₺</div>
<div class="abs" style="left:1038px;top:458.6px;width:446px;height:2px;background:#f2f2f2"></div>
<div class="t" style="left:1055.50px;top:478.29px;font-size:26.0px;line-height:32px;color:#151515;letter-spacing:0.603px;">İkramiye</div>
<div class="t" style="left:1355.50px;top:477.04px;font-size:27.3px;line-height:34px;color:#151515;letter-spacing:0.098px;">220.00</div>
<div class="t" style="left:1447.60px;top:475.29px;font-size:28.6px;line-height:36px;color:#151515;font-weight:bold;font-family:'DejaVu Sans',sans-serif;transform:scaleX(0.8600);transform-origin:0 50%;">₺</div>
<div class="abs" style="left:1038px;top:526.6px;width:446px;height:2px;background:#f2f2f2"></div>
<div class="t" style="left:1057.50px;top:546.29px;font-size:26.0px;line-height:32px;color:#151515;letter-spacing:0.234px;">Yol + Yemek</div>
<div class="t" style="left:1355.00px;top:545.04px;font-size:27.3px;line-height:34px;color:#151515;letter-spacing:0.198px;">320.00</div>
<div class="t" style="left:1447.60px;top:543.29px;font-size:28.6px;line-height:36px;color:#151515;font-weight:bold;font-family:'DejaVu Sans',sans-serif;transform:scaleX(0.8600);transform-origin:0 50%;">₺</div>
<div class="abs" style="left:1038px;top:594.6px;width:446px;height:2px;background:#f2f2f2"></div>
<div class="t" style="left:1055.50px;top:614.29px;font-size:26.0px;line-height:32px;color:#151515;letter-spacing:0.202px;">Fazla Mesai</div>
<div class="t" style="left:1387.10px;top:613.04px;font-size:27.3px;line-height:34px;color:#151515;letter-spacing:-0.249px;">0.00</div>
<div class="t" style="left:1447.60px;top:611.29px;font-size:28.6px;line-height:36px;color:#151515;font-weight:bold;font-family:'DejaVu Sans',sans-serif;transform:scaleX(0.8600);transform-origin:0 50%;">₺</div>
<div class="abs" style="left:1038px;top:662.6px;width:446px;height:2px;background:#f2f2f2"></div>
<div class="t" style="left:1056.50px;top:682.29px;font-size:26.0px;line-height:32px;color:#151515;letter-spacing:0.446px;">Girişimcilik</div>
<div class="t" style="left:1387.10px;top:681.04px;font-size:27.3px;line-height:34px;color:#151515;letter-spacing:-0.249px;">0.00</div>
<div class="t" style="left:1447.60px;top:679.29px;font-size:28.6px;line-height:36px;color:#151515;font-weight:bold;font-family:'DejaVu Sans',sans-serif;transform:scaleX(0.8600);transform-origin:0 50%;">₺</div>
<div class="abs" style="left:1038px;top:730.6px;width:446px;height:2px;background:#f2f2f2"></div>
<div class="t" style="left:1057.50px;top:750.33px;font-size:25.9px;line-height:32px;color:#151515;font-weight:bold;letter-spacing:-0.083px;">Toplam Maliyet</div>
<div class="t" style="left:1317.20px;top:749.04px;font-size:27.3px;line-height:34px;color:#151515;letter-spacing:0.106px;">50,478.00</div>
<div class="t" style="left:1447.60px;top:747.29px;font-size:28.6px;line-height:36px;color:#151515;font-weight:bold;font-family:'DejaVu Sans',sans-serif;transform:scaleX(0.8600);transform-origin:0 50%;">₺</div>
<div class="t" style="left:1563.70px;top:234.69px;font-size:28.6px;line-height:36px;color:#0a0a0a;font-weight:bold;letter-spacing:0.452px;">İzin Talepleri</div>
<div class="t" style="left:1947.08px;top:233.41px;font-size:30px;line-height:38px;color:#2f8fdd;-webkit-text-stroke:0.35px #2f8fdd;transform:scaleX(1.1200);transform-origin:0 50%;">3</div>
<div class="t" style="left:1559.40px;top:324.32px;font-size:23.6px;line-height:30px;color:#4a7cb8;letter-spacing:0.220px;">Cansu Demirci</div>
<div class="t" style="left:1880.60px;top:324.99px;font-size:26px;line-height:32px;color:#555;letter-spacing:0.607px;">19 gün</div>
<div class="abs" style="left:1560px;top:368px;width:403px;height:1.5px;background:#f4f4f4"></div>
<div class="t" style="left:1559.40px;top:381.52px;font-size:23.6px;line-height:30px;color:#4a7cb8;letter-spacing:0.097px;">Bayram Kabukçu</div>
<div class="t" style="left:1897.30px;top:381.89px;font-size:26px;line-height:32px;color:#555;letter-spacing:0.199px;">1 gün</div>
<div class="abs" style="left:1560px;top:425.3px;width:403px;height:1.5px;background:#f4f4f4"></div>
<div class="abs" style="left:1734.9px;top:473.7px;width:8.6px;height:8.6px;background:#2e6fc2;border-radius:50%"></div>
<div class="abs" style="left:1756.0px;top:473.7px;width:8.6px;height:8.6px;background:#2e6fc2;border-radius:50%"></div>
<div class="abs" style="left:1776.5px;top:473.7px;width:8.6px;height:8.6px;background:#2e6fc2;border-radius:50%"></div>
<div class="t" style="left:1563.70px;top:584.69px;font-size:28.6px;line-height:36px;color:#0a0a0a;font-weight:bold;letter-spacing:0.549px;">Destek Talepleri</div>
<div class="t" style="left:1947.08px;top:583.40px;font-size:30px;line-height:38px;color:#2f8fdd;-webkit-text-stroke:0.35px #2f8fdd;transform:scaleX(1.1200);transform-origin:0 50%;">3</div>
<div class="t" style="left:1558.40px;top:674.32px;font-size:23.6px;line-height:30px;color:#4a7cb8;letter-spacing:0.435px;">İş görüşmesi desteği</div>
<div class="t" style="left:1559.40px;top:736.92px;font-size:23.6px;line-height:30px;color:#4a7cb8;letter-spacing:0.127px;">Depo sayımlarının incelenmesi</div>
<svg class="abs" style="left:1922.8px;top:679.8px" width="24" height="24" viewBox="0 0 24 24"><circle cx="12" cy="12" r="10" fill="none" stroke="#d9726e" stroke-width="1.7"/><path d="M12 6.5 V12.6 H17" fill="none" stroke="#d9726e" stroke-width="1.7" stroke-linecap="round" stroke-linejoin="round"/></svg>
<svg class="abs" style="left:1922.8px;top:742.4px" width="24" height="24" viewBox="0 0 24 24"><circle cx="12" cy="12" r="10" fill="none" stroke="#d9726e" stroke-width="1.7"/><path d="M12 6.5 V12.6 H17" fill="none" stroke="#d9726e" stroke-width="1.7" stroke-linecap="round" stroke-linejoin="round"/></svg>
<div class="abs" style="left:1560px;top:718.5px;width:403px;height:1.5px;background:#f4f4f4"></div>
<div class="abs" style="left:1560px;top:780.7px;width:403px;height:1.5px;background:#f4f4f4"></div>
<div class="abs" style="left:1734.9px;top:834.5px;width:8.6px;height:8.6px;background:#2e6fc2;border-radius:50%"></div>
<div class="abs" style="left:1756.0px;top:834.5px;width:8.6px;height:8.6px;background:#2e6fc2;border-radius:50%"></div>
<div class="abs" style="left:1776.5px;top:834.5px;width:8.6px;height:8.6px;background:#2e6fc2;border-radius:50%"></div>
<div class="t" style="left:563.30px;top:936.39px;font-size:28.6px;line-height:36px;color:#0a0a0a;font-weight:bold;letter-spacing:0.452px;">Departmanlara Göre</div>
<div class="t" style="left:929.00px;top:986.90px;font-size:30px;line-height:38px;color:#2f8fdd;letter-spacing:1.600px;-webkit-text-stroke:0.35px #2f8fdd;">22</div>
<div class="t" style="left:563.30px;top:1040.09px;font-size:28.6px;line-height:36px;color:#0a0a0a;font-weight:bold;letter-spacing:0.266px;">Personel</div>
<svg class="abs" style="left:519px;top:903px" width="482" height="432" viewBox="0 0 482 432"><path d="M241.00 254.00 A159 159 0 0 1 299.53 560.83 L270.45 487.38 A80 80 0 0 0 241.00 333.00 Z" fill="#e59fcd" stroke="#fff" stroke-width="3" stroke-linejoin="round"/><path d="M299.53 560.83 A159 159 0 0 1 147.54 541.63 L193.98 477.72 A80 80 0 0 0 270.45 487.38 Z" fill="#3d8bd9" stroke="#fff" stroke-width="3" stroke-linejoin="round"/><path d="M147.54 541.63 A159 159 0 0 1 97.13 480.70 L168.61 447.06 A80 80 0 0 0 193.98 477.72 Z" fill="#e0662f" stroke="#fff" stroke-width="3" stroke-linejoin="round"/><path d="M97.13 480.70 A159 159 0 0 1 84.82 442.79 L162.42 427.99 A80 80 0 0 0 168.61 447.06 Z" fill="#222" stroke="#fff" stroke-width="3" stroke-linejoin="round"/><path d="M84.82 442.79 A159 159 0 0 1 132.16 297.09 L186.24 354.68 A80 80 0 0 0 162.42 427.99 Z" fill="#2bcb2f" stroke="#fff" stroke-width="3" stroke-linejoin="round"/><path d="M132.16 297.09 A159 159 0 0 1 164.40 273.67 L202.46 342.90 A80 80 0 0 0 186.24 354.68 Z" fill="#5a12e0" stroke="#fff" stroke-width="3" stroke-linejoin="round"/><path d="M164.40 273.67 A159 159 0 0 1 201.46 259.00 L221.10 335.51 A80 80 0 0 0 202.46 342.90 Z" fill="#efc020" stroke="#fff" stroke-width="3" stroke-linejoin="round"/><path d="M201.46 259.00 A159 159 0 0 1 241.00 254.00 L241.00 333.00 A80 80 0 0 0 221.10 335.51 Z" fill="#97903a" stroke="#fff" stroke-width="3" stroke-linejoin="round"/><text x="241" y="431" text-anchor="middle" font-family="Liberation Sans, sans-serif" font-size="45.5" fill="#dfa0c8">22</text></svg>
<div class="t" style="left:1063.30px;top:936.39px;font-size:28.6px;line-height:36px;color:#0a0a0a;font-weight:bold;letter-spacing:0.108px;">Eğitim Durumu Dağılımı</div>
<div class="t" style="left:1429.00px;top:934.90px;font-size:30px;line-height:38px;color:#2f8fdd;letter-spacing:1.600px;-webkit-text-stroke:0.35px #2f8fdd;">22</div>
<div class="abs" style="left:1080.7px;top:1068.3px;width:73.7px;height:21.7px;background:#ff6384"></div>
<div class="t" style="left:1163.70px;top:1065.17px;font-size:22.6px;line-height:28px;color:#666;letter-spacing:0.663px;">İlkokul</div>
<div class="abs" style="left:1250px;top:1068.3px;width:73.7px;height:21.7px;background:#a9504a"></div>
<div class="t" style="left:1334.00px;top:1065.17px;font-size:22.6px;line-height:28px;color:#666;letter-spacing:0.376px;">Ortaokul</div>
<div class="abs" style="left:1092.3px;top:1108.5px;width:73.7px;height:21.7px;background:#9c27b0"></div>
<div class="t" style="left:1176.30px;top:1105.37px;font-size:22.6px;line-height:28px;color:#666;letter-spacing:0.173px;">Lise</div>
<div class="abs" style="left:1237.3px;top:1108.5px;width:73.7px;height:21.7px;background:#ffc107"></div>
<div class="t" style="left:1321.30px;top:1105.37px;font-size:22.6px;line-height:28px;color:#666;letter-spacing:0.013px;">Önlisans</div>
<div class="abs" style="left:1176px;top:1149px;width:73.7px;height:21.7px;background:#3a9fe8"></div>
<div class="t" style="left:1260.00px;top:1145.87px;font-size:22.6px;line-height:28px;color:#666;">Lisans</div>
<div class="abs" style="left:1135.3px;top:1189.7px;width:73.7px;height:21.7px;background:#8bc34a"></div>
<div class="t" style="left:1220.70px;top:1186.57px;font-size:22.6px;line-height:28px;color:#666;letter-spacing:0.051px;">Yüksek Lisans</div>
<svg class="abs" style="left:1019px;top:903px" width="483" height="432" viewBox="0 0 483 432"><path d="M241.6 399.8 L241.60 331.80 A68 68 0 0 1 292.53 354.74 Z" fill="#9c27b0" stroke="#fff" stroke-width="3" stroke-linejoin="round"/><path d="M241.6 399.8 L292.53 354.74 A68 68 0 0 1 291.09 446.44 Z" fill="#ffc107" stroke="#fff" stroke-width="3" stroke-linejoin="round"/><path d="M241.6 399.8 L291.09 446.44 A68 68 0 0 1 176.57 379.92 Z" fill="#3a9fe8" stroke="#fff" stroke-width="3" stroke-linejoin="round"/><path d="M241.6 399.8 L176.57 379.92 A68 68 0 0 1 241.60 331.80 Z" fill="#8bc34a" stroke="#fff" stroke-width="3" stroke-linejoin="round"/></svg>
<svg class="abs" style="left:1562px;top:935px" width="34" height="34" viewBox="0 0 34 34"><g fill="none" stroke="#0b0b0b" stroke-width="2" stroke-linejoin="miter">
<path d="M5.6 18.8 V30 H28 V18.8"/>
<rect x="3.6" y="14.3" width="26.4" height="4.5"/>
<path d="M16.8 12.2 C12 11.6 7.6 9.6 7.6 6.2 C7.6 3.6 9.5 2.4 11.3 2.4 C14.4 2.4 16.2 7 16.8 12.2 C17.4 7 19.2 2.4 22.3 2.4 C24.1 2.4 26 3.6 26 6.2 C26 9.6 21.6 11.6 16.8 12.2 Z" stroke-width="1.9"/>
<path d="M13.8 14.3 L15.3 26.8 L18.4 23.4 L22 25.4 L20.2 14.3" fill="#fff" stroke-width="1.8"/>
</g></svg>
<div class="t" style="left:1601.30px;top:936.39px;font-size:28.6px;line-height:36px;color:#0a0a0a;font-weight:bold;letter-spacing:0.153px;">Doğum Günleri</div>
<div class="t" style="left:1951.19px;top:934.90px;font-size:30px;line-height:38px;color:#2f8fdd;-webkit-text-stroke:0.35px #2f8fdd;transform:scaleX(0.7571);transform-origin:0 50%;">1</div>
<div class="abs" style="left:1560px;top:1015px;width:55px;height:55px;background:#2196f3;border-radius:4px"></div>
<div class="t" style="left:1570.00px;top:1026.29px;font-size:26px;line-height:32px;color:#fff;font-weight:bold;letter-spacing:1.118px;">ZD</div>
<div class="t" style="left:1625.00px;top:1026.42px;font-size:23.6px;line-height:30px;color:#4a7cb8;letter-spacing:0.080px;">Ziya Doğramacı</div>
<svg class="abs" style="left:1905px;top:1027px" width="32" height="31" viewBox="0 0 32 31"><g fill="#2a6fc8">
<path d="M1.8 30.4 V19.7 Q1.8 16.2 5.3 16.2 H27.4 Q30.9 16.2 30.9 19.7 V30.4 Z"/>
<rect x="6" y="8" width="4.2" height="9"/><rect x="14.3" y="8" width="4.4" height="9"/><rect x="22.8" y="8" width="4.2" height="9"/>
<path d="M8.4 1.2 Q11 4.2 9.6 6 Q8.2 7.2 6.8 6 Q5.6 4.4 8.4 1.2 Z M16.8 1.2 Q19.4 4.2 18 6 Q16.6 7.2 15.2 6 Q14 4.4 16.8 1.2 Z M25.2 1.2 Q27.8 4.2 26.4 6 Q25 7.2 23.6 6 Q22.4 4.4 25.2 1.2 Z" fill="#3a63b4"/>
<path d="M1.8 22.3 C3.6 20.6 5.6 20.4 7.6 22 C9.6 23.6 11.6 23.6 13.6 22 C15.6 20.4 17.6 20.4 19.6 22 C21.6 23.6 23.6 23.6 25.6 22 C27.6 20.4 29.4 20.6 30.9 22.3" fill="none" stroke="#e4f3ff" stroke-width="1.7"/>
</g></svg>
<div class="t" style="left:1944.70px;top:1024.71px;font-size:29.7px;line-height:37px;color:#3a6db3;">0</div>
<div class="abs" style="left:1615px;top:1070.3px;width:348px;height:1.5px;background:#f3f3f3"></div>
<div class="t" style="left:1565.00px;top:1286.39px;font-size:28.6px;line-height:36px;color:#0a0a0a;font-weight:bold;letter-spacing:0.347px;">Seyahat Talepleri</div>
<div class="t" style="left:1946.19px;top:1284.90px;font-size:30px;line-height:38px;color:#2f8fdd;-webkit-text-stroke:0.35px #2f8fdd;transform:scaleX(1.1133);transform-origin:0 50%;">6</div>
</div>
</body>
</html>
